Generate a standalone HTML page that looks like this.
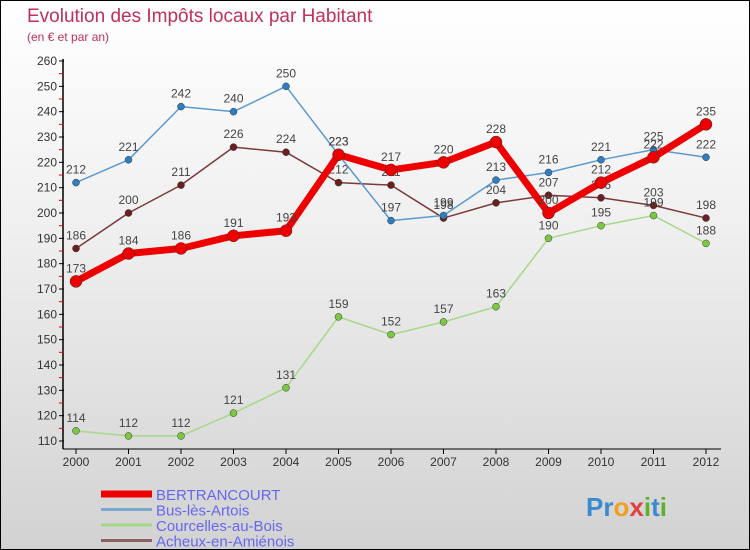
<!DOCTYPE html>
<html><head><meta charset="utf-8"><style>
body{margin:0}
#c{width:750px;height:550px;position:relative;box-sizing:border-box;border:1px solid #000;background:linear-gradient(#fff 0%,#f0f0f0 40%,#d2d2d2 100%);font-family:"Liberation Sans",sans-serif;overflow:hidden}
</style></head><body>
<div id="c">
<svg id="s" width="750" height="550" style="position:absolute;left:0;top:0">
<text x="26" y="21" font-size="19" fill="#c0305a">Evolution des Impôts locaux par Habitant</text>
<text x="26" y="40" font-size="12" fill="#c0305a">(en € et par an)</text>
</svg>
</div>
<script>
const years=[2000,2001,2002,2003,2004,2005,2006,2007,2008,2009,2010,2011,2012];
const yTicks=[110,120,130,140,150,160,170,180,190,200,210,220,230,240,250,260];
const bertrancourt=[173,184,186,191,193,223,217,220,228,200,212,222,235];
const bus=[212,221,242,240,250,223,197,199,213,216,221,225,222];
const courcelles=[114,112,112,121,131,159,152,157,163,190,195,199,188];
const acheux=[186,200,211,226,224,212,211,198,204,207,206,203,198];
const NS="http://www.w3.org/2000/svg";
const s=document.getElementById('s');
const X=i=>75+i*52.5;
const Y=v=>440-(v-110)*380/150;
function el(t,a,p){const e=document.createElementNS(NS,t);for(const k in a)e.setAttribute(k,a[k]);(p||s).appendChild(e);return e;}
// axes
const ax=el('line',{x1:62,y1:58,x2:62,y2:448,stroke:'#000','stroke-width':1.5});


const bx=el('line',{x1:62,y1:448,x2:720,y2:448,stroke:'#000','stroke-width':1});


yTicks.forEach(v=>{
  el('line',{x1:58,y1:Y(v),x2:63,y2:Y(v),stroke:'#000'});
  if(v<260) el('line',{x1:58,y1:Y(v+5),x2:62,y2:Y(v+5),stroke:'#e00'});
  const t=el('text',{x:56,y:Y(v)+4,'text-anchor':'end','font-size':12,fill:'#333'});
  t.textContent=v;
  
  
});
years.forEach((y,i)=>{
  el('line',{x1:X(i),y1:448,x2:X(i),y2:453,stroke:'#000'});
  const t=el('text',{x:X(i),y:465,'text-anchor':'middle','font-size':12,fill:'#333'});
  t.textContent=y;
  
  
});
function series(name,data,color,dot,w,r){
  const g=el('g',{});
  
  
  el('polyline',{points:data.map((v,i)=>X(i)+','+Y(v)).join(' '),fill:'none',stroke:color,'stroke-width':w,'stroke-linejoin':'round'},g);
  data.forEach((v,i)=>{
    const c=el('circle',{cx:X(i),cy:Y(v),r:r,fill:dot,stroke:'#333','stroke-width':0.5},g);
    
    
    const t=el('text',{x:X(i),y:Y(v)-9,'text-anchor':'middle','font-size':12,fill:'#444'},g);
    t.textContent=v;
    
    
  });
}
series('series-acheux',acheux,'#7a3a3a','#6b1f1f',1.5,3.5);
series('series-courcelles',courcelles,'#a6d88a','#7cc840',1.5,3.5);
series('series-bus',bus,'#5a9ad0','#2f7fc0',1.5,3.5);
series('series-bertrancourt',bertrancourt,'#ee0000','#ee0000',7,6);
// legend
const leg=[['BERTRANCOURT','#ee0000',7],['Bus-lès-Artois','#7aa8d0',3],['Courcelles-au-Bois','#a6d88a',3],['Acheux-en-Amiénois','#8a6060',3]];
leg.forEach((l,i)=>{
  const g=el('g',{});
  
  
  const y=493+i*15.5;
  el('line',{x1:100,y1:y,x2:151,y2:y,stroke:l[1],'stroke-width':l[2]},g);
  const t=el('text',{x:155,y:y+6,'font-size':15,fill:'#6666ee'},g);
  t.textContent=l[0];
});
const p=el('text',{x:585,y:515,'font-size':26,'font-weight':'bold',fill:'#3a8ad0'});
p.innerHTML='Pr<tspan fill="#f0a020">o</tspan><tspan fill="#e04040">x</tspan><tspan fill="#60b030">i</tspan>t<tspan fill="#60b030">i</tspan>';


</script>
</body></html>
